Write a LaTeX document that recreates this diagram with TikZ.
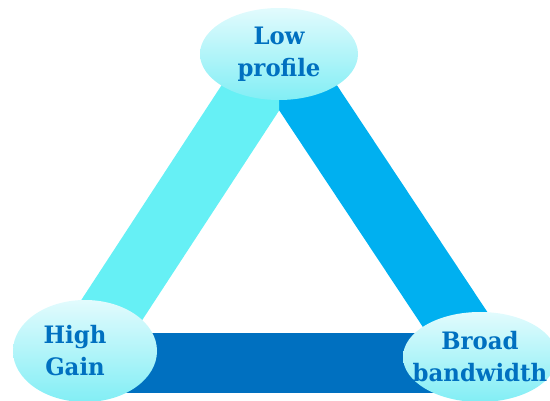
\documentclass[tikz,border=0pt]{standalone}
\usepackage{fontspec}
\setmainfont{DejaVu Serif}[FakeStretch=0.95]
\usetikzlibrary{shapes.geometric}
\definecolor{txtblue}{HTML}{0070C0}
\definecolor{barlight}{HTML}{66F0F5}
\definecolor{barmid}{HTML}{00B0F0}
\definecolor{bardark}{HTML}{0070C0}
\definecolor{elltop}{HTML}{E2FBFD}
\definecolor{ellbot}{HTML}{82EEF5}
\tikzset{
  bubble/.style={ellipse, inner sep=0pt, top color=elltop, bottom color=ellbot, draw=none},
  lbl/.style={align=center, text=txtblue, font=\fontsize{24}{32}\selectfont\bfseries, inner sep=0pt},
  bar/.style={line width=62pt, line cap=butt}
}
\begin{document}
\begin{tikzpicture}[x=1pt, y=-1pt]
\useasboundingbox (0,0) rectangle (550,401);
\clip (0,0) rectangle (550,401);
% node positions (ellipses)
\coordinate (lpc) at (279,54);
\coordinate (hgc) at (85,351);
\coordinate (bbc) at (480,357);
\coordinate (bl) at (85,363);
\coordinate (br) at (480,363);
% bars
\draw[bar, bardark, line width=60pt] (bl) -- (br);
\draw[bar, barmid] (lpc) -- (bbc);
\begin{scope}
  \clip (0,0) rectangle (279,401);
  \draw[bar, barlight] (hgc) -- (lpc);
\end{scope}
% ellipses
\node[bubble, minimum width=158pt, minimum height=92pt] (lp) at (lpc) {};
\node[bubble, minimum width=144pt, minimum height=102pt] (hg) at (hgc) {};
\node[bubble, minimum width=154pt, minimum height=90pt] (bb) at (bbc) {};
% labels
\node[lbl] (lpt) at (lp.center) {Low\\profile};
\node[lbl] (hgt) at ([xshift=-10pt]hg.center) {High\\Gain};
\node[lbl] (bbt) at (bb.center) {Broad\\bandwidth};
\end{tikzpicture}
\end{document}
